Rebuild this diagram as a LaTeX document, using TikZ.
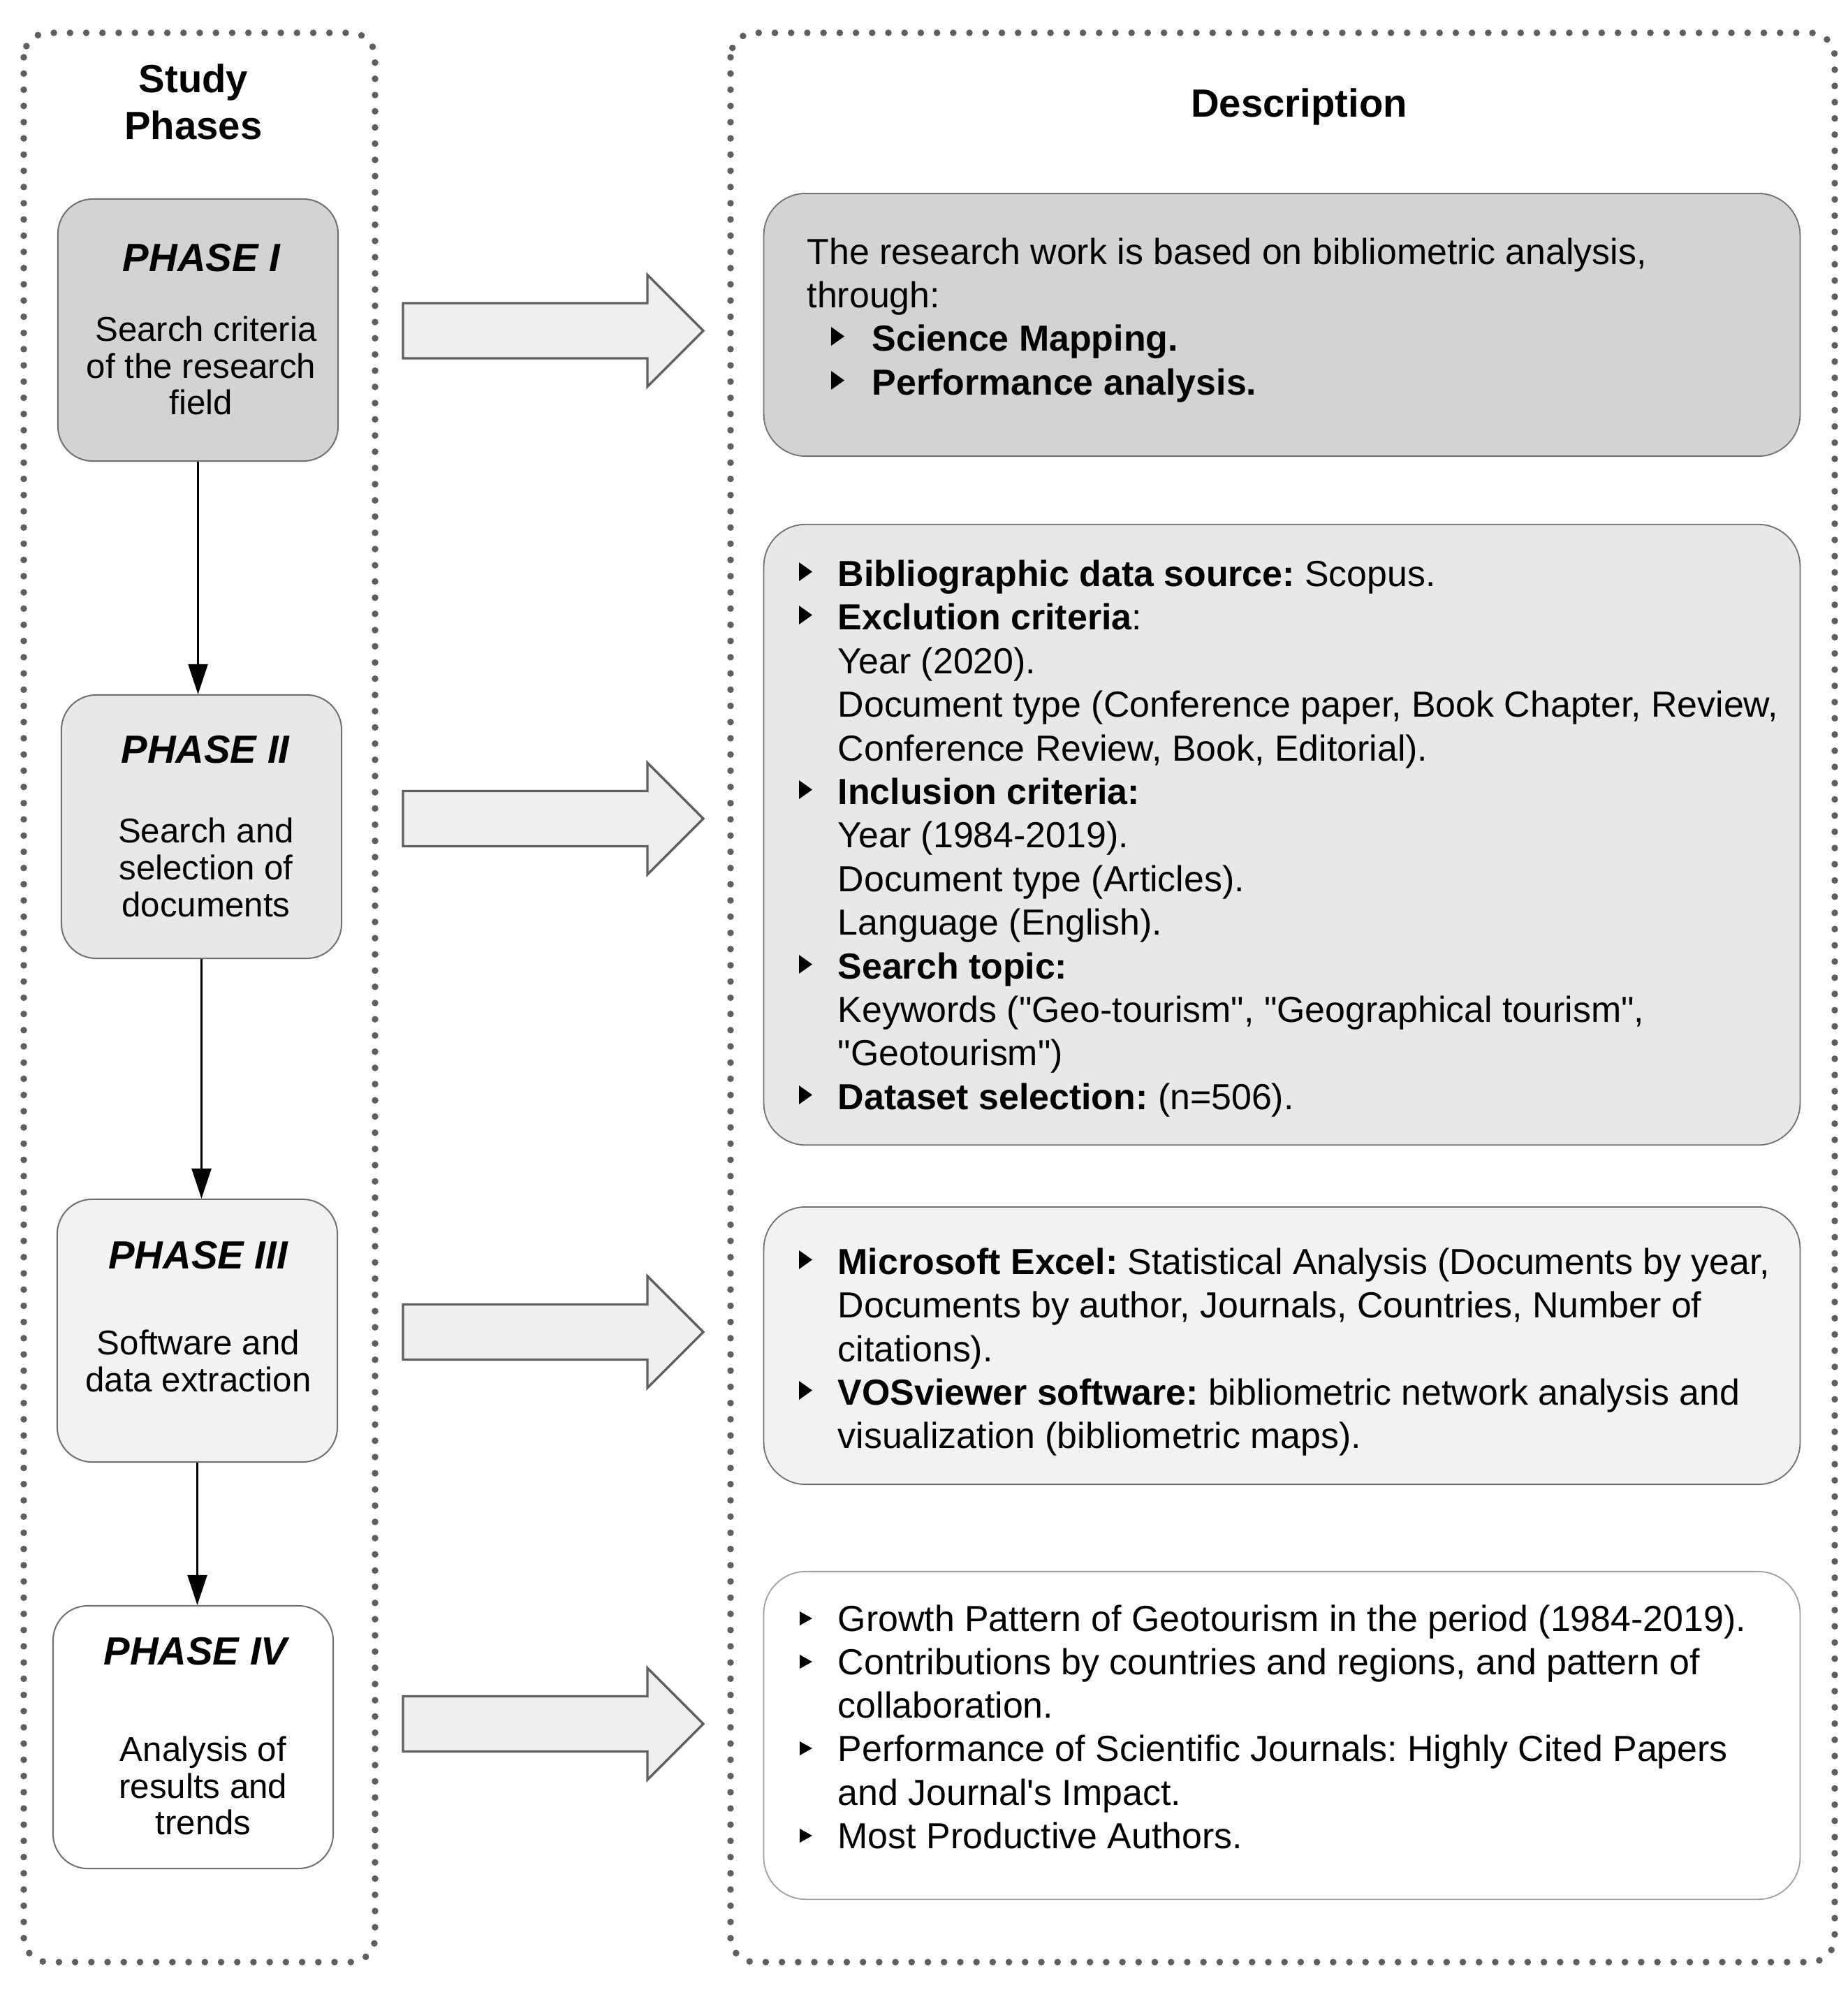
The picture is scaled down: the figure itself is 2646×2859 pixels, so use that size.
\documentclass[tikz,border=0pt]{standalone}
\usepackage{fontspec}
\setmainfont{Liberation Sans}
\usetikzlibrary{arrows.meta}
\definecolor{dotgray}{HTML}{5F5F5F}
\definecolor{arrgray}{HTML}{606060}
\definecolor{arrfill}{HTML}{EFEFEF}
\definecolor{fillA}{HTML}{D3D3D3}
\definecolor{fillB}{HTML}{E8E8E8}
\definecolor{fillC}{HTML}{F2F2F2}
\definecolor{fillD}{HTML}{FFFFFF}
\definecolor{edgeA}{HTML}{707070}
\definecolor{edgeD}{HTML}{A0A0A0}
\newcommand\blockarrow[1]{\draw[blockarr] (577,#1-39.5) -- (927,#1-39.5) -- (927,#1-80) -- (1007,#1) -- (927,#1+80) -- (927,#1+39.5) -- (577,#1+39.5) -- cycle;}
\newcommand\bigbul[2]{\fill (#1,#2-34) -- (#1+19,#2-20.5) -- (#1,#2-7) -- cycle;}
\newcommand\smallbul[2]{\fill (#1,#2-28) -- (#1+18,#2-18) -- (#1,#2-8) -- cycle;}
\newcommand\qd{\textquotedbl}
\frenchspacing
\begin{document}
\begin{tikzpicture}[x=0.01cm,y=-0.01cm,
  outerbox/.style={draw=dotgray, line width=0.095cm, line cap=round, dash pattern=on 0pt off 0.232cm, rounded corners=0.35cm},
  phasebox/.style={draw=edgeA, line width=0.02cm, rounded corners=0.5cm, minimum width=4.01cm, inner sep=0pt},
  descbox/.style={draw=edgeA, line width=0.018cm, rounded corners=0.6cm, minimum width=14.83cm, inner sep=0pt},
  blockarr/.style={draw=arrgray, fill=arrfill, line width=0.033cm, line join=miter},
  varrow/.style={draw=black, line width=0.025cm, -{Triangle[length=0.43cm,width=0.28cm]}},
  htitle/.style={anchor=base, inner sep=0pt, font=\fontsize{16}{19}\selectfont\bfseries},
  ptitle/.style={anchor=base, inner sep=0pt, font=\fontsize{16}{19}\selectfont\bfseries\itshape},
  ptext/.style={anchor=base, inner sep=0pt, font=\fontsize{14}{15}\selectfont},
  dtext/.style={anchor=base west, inner sep=0pt, font=\fontsize{14.75}{17.76}\selectfont\frenchspacing}
]
\path[use as bounding box] (0,0) rectangle (2646,2859);

% outer dotted frames
\draw[outerbox] (34,47) rectangle (537,2809);
\draw[outerbox] (1046,47) rectangle (2627,2809);

% headings
\node[htitle] (hstudy) at (277,132) {Study};
\node[htitle] (hphases) at (277,199) {Phases};
\node[htitle] (hdesc) at (1860,167) {Description};

% phase boxes
\node[phasebox, fill=fillA, minimum height=3.75cm] (p1) at (283.5,472.5) {};
\node[phasebox, fill=fillB, minimum height=3.77cm] (p2) at (288.5,1183.5) {};
\node[phasebox, fill=fillC, minimum height=3.76cm] (p3) at (282.5,1905) {};
\node[phasebox, fill=fillD, minimum height=3.76cm] (p4) at (276.5,2487) {};

\node[ptitle] (p1t) at (288.5,388) {PHASE I};
\node[ptext] (p1a) at (288,488) {\hspace*{0.28em}Search criteria};
\node[ptext] (p1b) at (288,541) {of the research};
\node[ptext] (p1c) at (288,593) {field};

\node[ptitle] (p2t) at (294,1092) {PHASE II};
\node[ptext] (p2a) at (295,1206) {Search and};
\node[ptext] (p2b) at (295,1259) {selection of};
\node[ptext] (p2c) at (295,1312) {documents};

\node[ptitle] (p3t) at (283.5,1816) {PHASE III};
\node[ptext] (p3a) at (284,1939) {Software and};
\node[ptext] (p3b) at (284,1992) {data extraction};

\node[ptitle] (p4t) at (280,2383) {PHASE IV};
\node[ptext] (p4a) at (291,2521) {Analysis of};
\node[ptext] (p4b) at (291,2574) {results and};
\node[ptext] (p4c) at (291,2626) {trends};

% vertical connectors
\draw[varrow] (p1.south) -- (p1.south |- p2.north);
\draw[varrow] (p2.south) -- (p2.south |- p3.north);
\draw[varrow] (p3.south) -- (p3.south |- p4.north);

% block arrows
\blockarrow{473.5}
\blockarrow{1172}
\blockarrow{1907}
\blockarrow{2468}

% description boxes
\node[descbox, fill=fillA, minimum height=3.76cm] (d1) at (1835.5,465) {};
\node[descbox, fill=fillB, minimum height=8.88cm] (d2) at (1835.5,1195) {};
\node[descbox, fill=fillC, minimum height=3.97cm] (d3) at (1835.5,1926.5) {};
\node[descbox, fill=fillD, draw=edgeD, minimum height=4.69cm] (d4) at (1835.5,2484.5) {};

% box 1 text
\node[dtext] (d1l1) at (1155,378) {The research work is based on bibliometric analysis,};
\node[dtext] (d1l2) at (1155,440) {through:};
\bigbul{1190}{502}
\node[dtext] (d1l3) at (1248,502) {\textbf{Science Mapping.}};
\bigbul{1190}{565}
\node[dtext] (d1l4) at (1248,565) {\textbf{Performance analysis.}};

% box 2 text
\bigbul{1144}{839}
\node[dtext] (d2l1) at (1199,839) {\textbf{Bibliographic data source:} Scopus.};
\bigbul{1144}{901}
\node[dtext] (d2l2) at (1199,901) {\textbf{Exclution criteria}:};
\node[dtext] (d2l3) at (1199,964) {Year (2020).};
\node[dtext] (d2l4) at (1199,1026) {Document type (Conference paper, Book Chapter, Review,};
\node[dtext] (d2l5) at (1199,1089) {Conference Review, Book, Editorial).};
\bigbul{1144}{1151}
\node[dtext] (d2l6) at (1199,1151) {\textbf{Inclusion criteria:}};
\node[dtext] (d2l7) at (1199,1213) {Year (1984-2019).};
\node[dtext] (d2l8) at (1199,1276) {Document type (Articles).};
\node[dtext] (d2l9) at (1199,1338) {Language (English).};
\bigbul{1144}{1401}
\node[dtext] (d2l10) at (1199,1401) {\textbf{Search topic:}};
\node[dtext] (d2l11) at (1199,1463) {Keywords (\qd Geo-tourism\qd, \qd Geographical tourism\qd,};
\node[dtext] (d2l12) at (1199,1525) {\qd Geotourism\qd)};
\bigbul{1144}{1588}
\node[dtext] (d2l13) at (1199,1588) {\textbf{Dataset selection:} (n=506).};

% box 3 text
\bigbul{1144}{1824}
\node[dtext] (d3l1) at (1199,1824) {\textbf{Microsoft Excel:} Statistical Analysis (Documents by year,};
\node[dtext] (d3l2) at (1199,1886) {Documents by author, Journals, Countries, Number of};
\node[dtext] (d3l3) at (1199,1949) {citations).};
\bigbul{1144}{2011}
\node[dtext] (d3l4) at (1199,2011) {\textbf{VOSviewer software:} bibliometric network analysis and};
\node[dtext] (d3l5) at (1199,2073) {visualization (bibliometric maps).};

% box 4 text
\smallbul{1145}{2335}
\node[dtext] (d4l1) at (1199,2335) {Growth Pattern of Geotourism in the period (1984-2019).};
\smallbul{1145}{2397}
\node[dtext] (d4l2) at (1199,2397) {Contributions by countries and regions, and pattern of};
\node[dtext] (d4l3) at (1199,2459) {collaboration.};
\smallbul{1145}{2521}
\node[dtext] (d4l4) at (1199,2521) {Performance of Scientific Journals: Highly Cited Papers};
\node[dtext] (d4l5) at (1199,2584) {and Journal\textquotesingle s Impact.};
\smallbul{1145}{2646}
\node[dtext] (d4l6) at (1199,2646) {Most Productive Authors.};
\end{tikzpicture}
\end{document}
